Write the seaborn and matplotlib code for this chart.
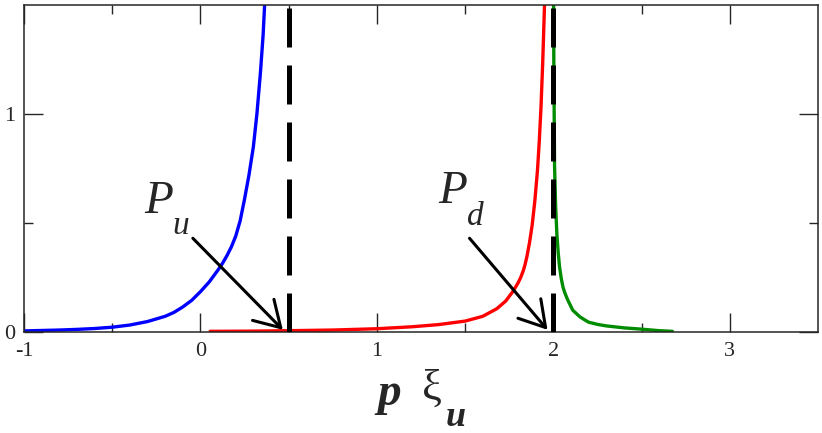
import numpy as np
import pandas as pd
import matplotlib
matplotlib.use("Agg")
import matplotlib.pyplot as plt
from matplotlib import font_manager
import seaborn as sns

# curve values
blue_x = [-1.0, -0.9, -0.8, -0.7, -0.6, -0.5, -0.4, -0.3, -0.2, -0.15, -0.1, -0.05,
          0.0, 0.05, 0.1, 0.125, 0.15, 0.175, 0.2, 0.225, 0.25, 0.275, 0.3, 0.32,
          0.34, 0.355, 0.37]
blue_y = [0.005, 0.007, 0.009, 0.012, 0.016, 0.022, 0.032, 0.048, 0.072, 0.09,
          0.115, 0.145, 0.185, 0.23, 0.285, 0.315, 0.35, 0.39, 0.44, 0.51, 0.61,
          0.72, 0.85, 1.0, 1.19, 1.36, 1.6]

red_x = [0.055, 0.3, 0.5, 0.75, 1.0, 1.2, 1.35, 1.5, 1.6, 1.68, 1.73, 1.77, 1.8,
         1.815, 1.83, 1.84, 1.85, 1.865, 1.88, 1.895, 1.91, 1.92, 1.93, 1.94,
         1.95, 1.958]
red_y = [0.003, 0.004, 0.006, 0.009, 0.015, 0.024, 0.034, 0.05, 0.072, 0.107,
         0.142, 0.185, 0.225, 0.25, 0.282, 0.31, 0.345, 0.41, 0.49, 0.6, 0.74,
         0.87, 1.03, 1.24, 1.5, 1.75]

green_x = [2.001, 2.003, 2.007, 2.013, 2.02, 2.028, 2.035, 2.045, 2.055, 2.065,
           2.08, 2.095, 2.11, 2.13, 2.15, 2.175, 2.2, 2.25, 2.3, 2.4, 2.5, 2.6,
           2.675]
green_y = [1.6, 1.2, 0.76, 0.58, 0.45, 0.36, 0.3, 0.245, 0.205, 0.18, 0.15, 0.125,
           0.10, 0.085, 0.07, 0.057, 0.045, 0.035, 0.028, 0.019, 0.013, 0.006,
           0.003]

pole_u = 0.5
pole_d = 2.0

frames = []
for name, xs, ys in [('u', blue_x, blue_y), ('d', red_x, red_y), ('g', green_x, green_y)]:
    frames.append(pd.DataFrame({'x': xs, 'y': ys, 'curve': name}))
data = pd.concat(frames, ignore_index=True)

# make sure the Liberation Serif files are registered
for f in font_manager.findSystemFonts():
    if 'LiberationSerif' in f.replace(' ', '').replace('-', ''):
        try:
            font_manager.fontManager.addfont(f)
        except Exception:
            pass

sns.set_style("ticks")
plt.rcParams['font.family'] = ['Liberation Serif', 'DejaVu Serif']
plt.rcParams['axes.unicode_minus'] = False

fig = plt.figure(figsize=(8.22, 4.33), dpi=100)
ax = fig.add_axes([24 / 822, 1 - 332 / 433, 794 / 822, 327 / 433])

sns.lineplot(data=data, x='x', y='y', hue='curve', units='curve', estimator=None,
             sort=False, palette={'u': '#0000ff', 'd': '#ff0000', 'g': '#008c00'},
             linewidth=2.4, legend=False, ax=ax)

# dashed pole lines
for xp in [pole_u, pole_d]:
    ax.axvline(xp, color='black', lw=3.6, dashes=(7.8, 3.6), zorder=3)

ax.set_xlim(-1, 3.5)
ax.set_ylim(0, 1.5)
ax.set_xticks([-1, 0, 1, 2, 3])
ax.set_xticks([-0.5, 0.5, 1.5, 2.5], minor=True)
ax.set_yticks([0, 1])
ax.set_yticks([0.5], minor=True)
ax.tick_params(which='both', direction='in', top=True, right=True, width=1.0,
               labelsize=16)
ax.tick_params(which='major', length=13.5, pad=7)
ax.tick_params(which='minor', length=6.5)
ax.tick_params(axis='y', pad=6)
for s in ax.spines.values():
    s.set_linewidth(1.1)
ax.set_xlabel('')
ax.set_ylabel('')

# annotations
arrow = dict(arrowstyle='->,head_length=1.0,head_width=0.6', lw=2.2,
             color='black', mutation_scale=18, shrinkA=0, shrinkB=0)
ax.annotate('', xy=(0.467, 0.01), xytext=(-0.043, 0.43), arrowprops=arrow)
ax.annotate('', xy=(1.967, 0.01), xytext=(1.525, 0.43), arrowprops=arrow)

ax.text(-0.32, 0.546, 'P', fontsize=34, style='italic', ha='left', va='baseline')
ax.text(-0.16, 0.45, 'u', fontsize=24, style='italic', ha='left', va='baseline')
ax.text(1.35, 0.592, 'P', fontsize=34, style='italic', ha='left', va='baseline')
ax.text(1.51, 0.49, 'd', fontsize=24, style='italic', ha='left', va='baseline')

# x axis label: bold italic p, xi, bold italic subscript u
fig.text(377 / 822, 1 - 405 / 433, 'p', fontsize=34, style='italic',
         weight='bold', ha='left', va='baseline')
fig.text(422 / 822, 1 - 400 / 433, '\u03be', fontsize=32, ha='left', va='baseline')
fig.text(446 / 822, 1 - 426 / 433, 'u', fontsize=26, style='italic',
         weight='bold', ha='left', va='baseline')

fig.savefig('out.png', dpi=100)
